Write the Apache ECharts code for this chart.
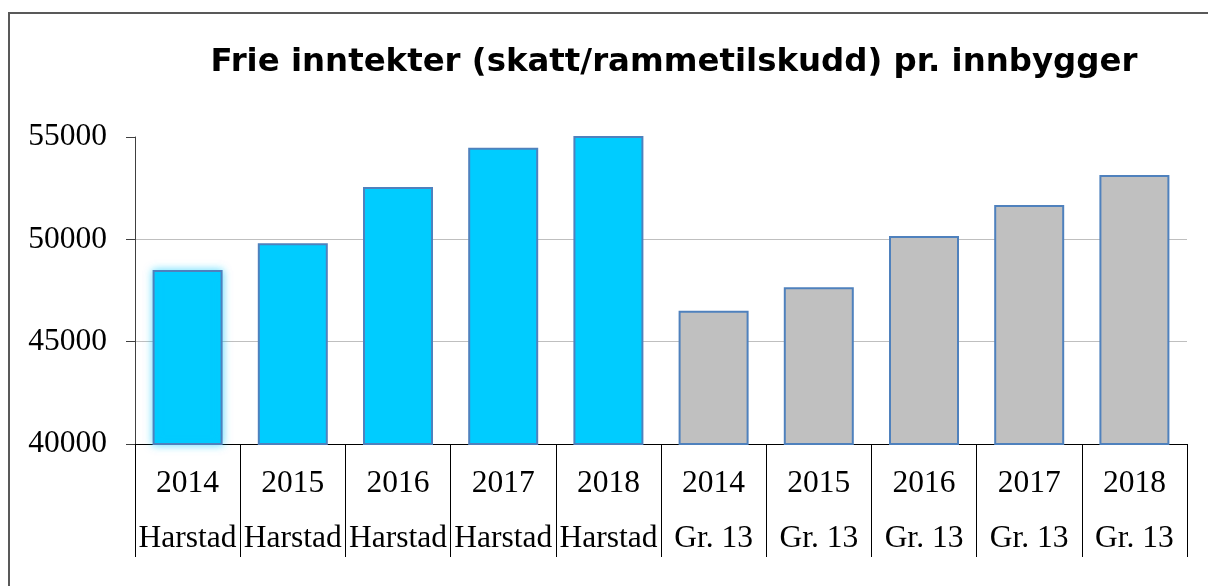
<!DOCTYPE html>
<html>
<head>
<meta charset="utf-8">
<script src="https://cdn.jsdelivr.net/npm/echarts@6/dist/echarts.min.js"></script>
<style>
  html, body { margin: 0; padding: 0; background: #fff; }
  #chart { width: 1208px; height: 586px; }
</style>
</head>
<body>
<div id="chart"></div>
<script>
// categories: year + area
const years = ['2014', '2015', '2016', '2017', '2018', '2014', '2015', '2016', '2017', '2018']
const areas = ['Harstad', 'Harstad', 'Harstad', 'Harstad', 'Harstad', 'Gr. 13', 'Gr. 13', 'Gr. 13', 'Gr. 13', 'Gr. 13']
// NOK per inhabitant
const harstadValues = [48500, 49810, 52560, 54480, 55300]
const gr13Values = [46510, 47660, 50160, 51680, 53140]

const chart = echarts.init(document.getElementById('chart'))

const categories = years.map((y, i) => y + '\n' + areas[i])
const barData = categories.map((c, i) => {
  const isHarstad = i < harstadValues.length
  const v = isHarstad ? harstadValues[i] : gr13Values[i - harstadValues.length]
  const style = {
    color: isHarstad ? '#00CCFF' : '#C0C0C0',
    borderColor: '#4F81BD',
    borderWidth: 2
  }
  // first bar has a soft glow in the original
  if (i === 0) {
    style.shadowBlur = 8
    style.shadowColor = 'rgba(0, 204, 255, 0.6)'
  }
  return { value: v, itemStyle: style }
})

const option = {
  animation: false,
  backgroundColor: '#fff',
  title: {
    text: 'Frie inntekter (skatt/rammetilskudd) pr. innbygger',
    left: 669,
    top: 42,
    textAlign: 'center',
    textStyle: {
      fontFamily: 'DejaVu Sans',
      fontWeight: 'bold',
      fontSize: 32.4,
      color: '#000'
    }
  },
  graphic: [{
    type: 'rect',
    shape: { x: 9, y: 13, width: 1400, height: 800 },
    style: { fill: 'none', stroke: '#595959', lineWidth: 2 },
    silent: true
  }],
  grid: {
    left: 135,
    right: 21,
    top: 137,
    bottom: 142
  },
  xAxis: {
    type: 'category',
    data: categories,
    axisLine: { lineStyle: { color: '#000', width: 1 } },
    axisTick: { show: true, length: 113, lineStyle: { color: '#000', width: 1 } },
    axisLabel: {
      interval: 0,
      margin: 12,
      fontFamily: 'Liberation Serif',
      fontSize: 31.5,
      lineHeight: 55,
      color: '#000'
    }
  },
  yAxis: {
    type: 'value',
    min: 40000,
    max: 55000,
    interval: 5000,
    axisLine: { show: true, lineStyle: { color: '#404040', width: 1 } },
    axisTick: { show: true, length: 9, lineStyle: { color: '#404040' } },
    axisLabel: {
      margin: 28,
      fontFamily: 'Liberation Serif',
      fontSize: 31.5,
      color: '#000',
      formatter: v => String(v)
    },
    splitLine: {
      show: true,
      lineStyle: { color: ['#BFBFBF', '#BFBFBF', '#BFBFBF', 'transparent'], width: 1 }
    }
  },
  series: [{
    type: 'bar',
    data: barData,
    barWidth: 70,
    clip: true
  }]
}

chart.setOption(option)
</script>
</body>
</html>
